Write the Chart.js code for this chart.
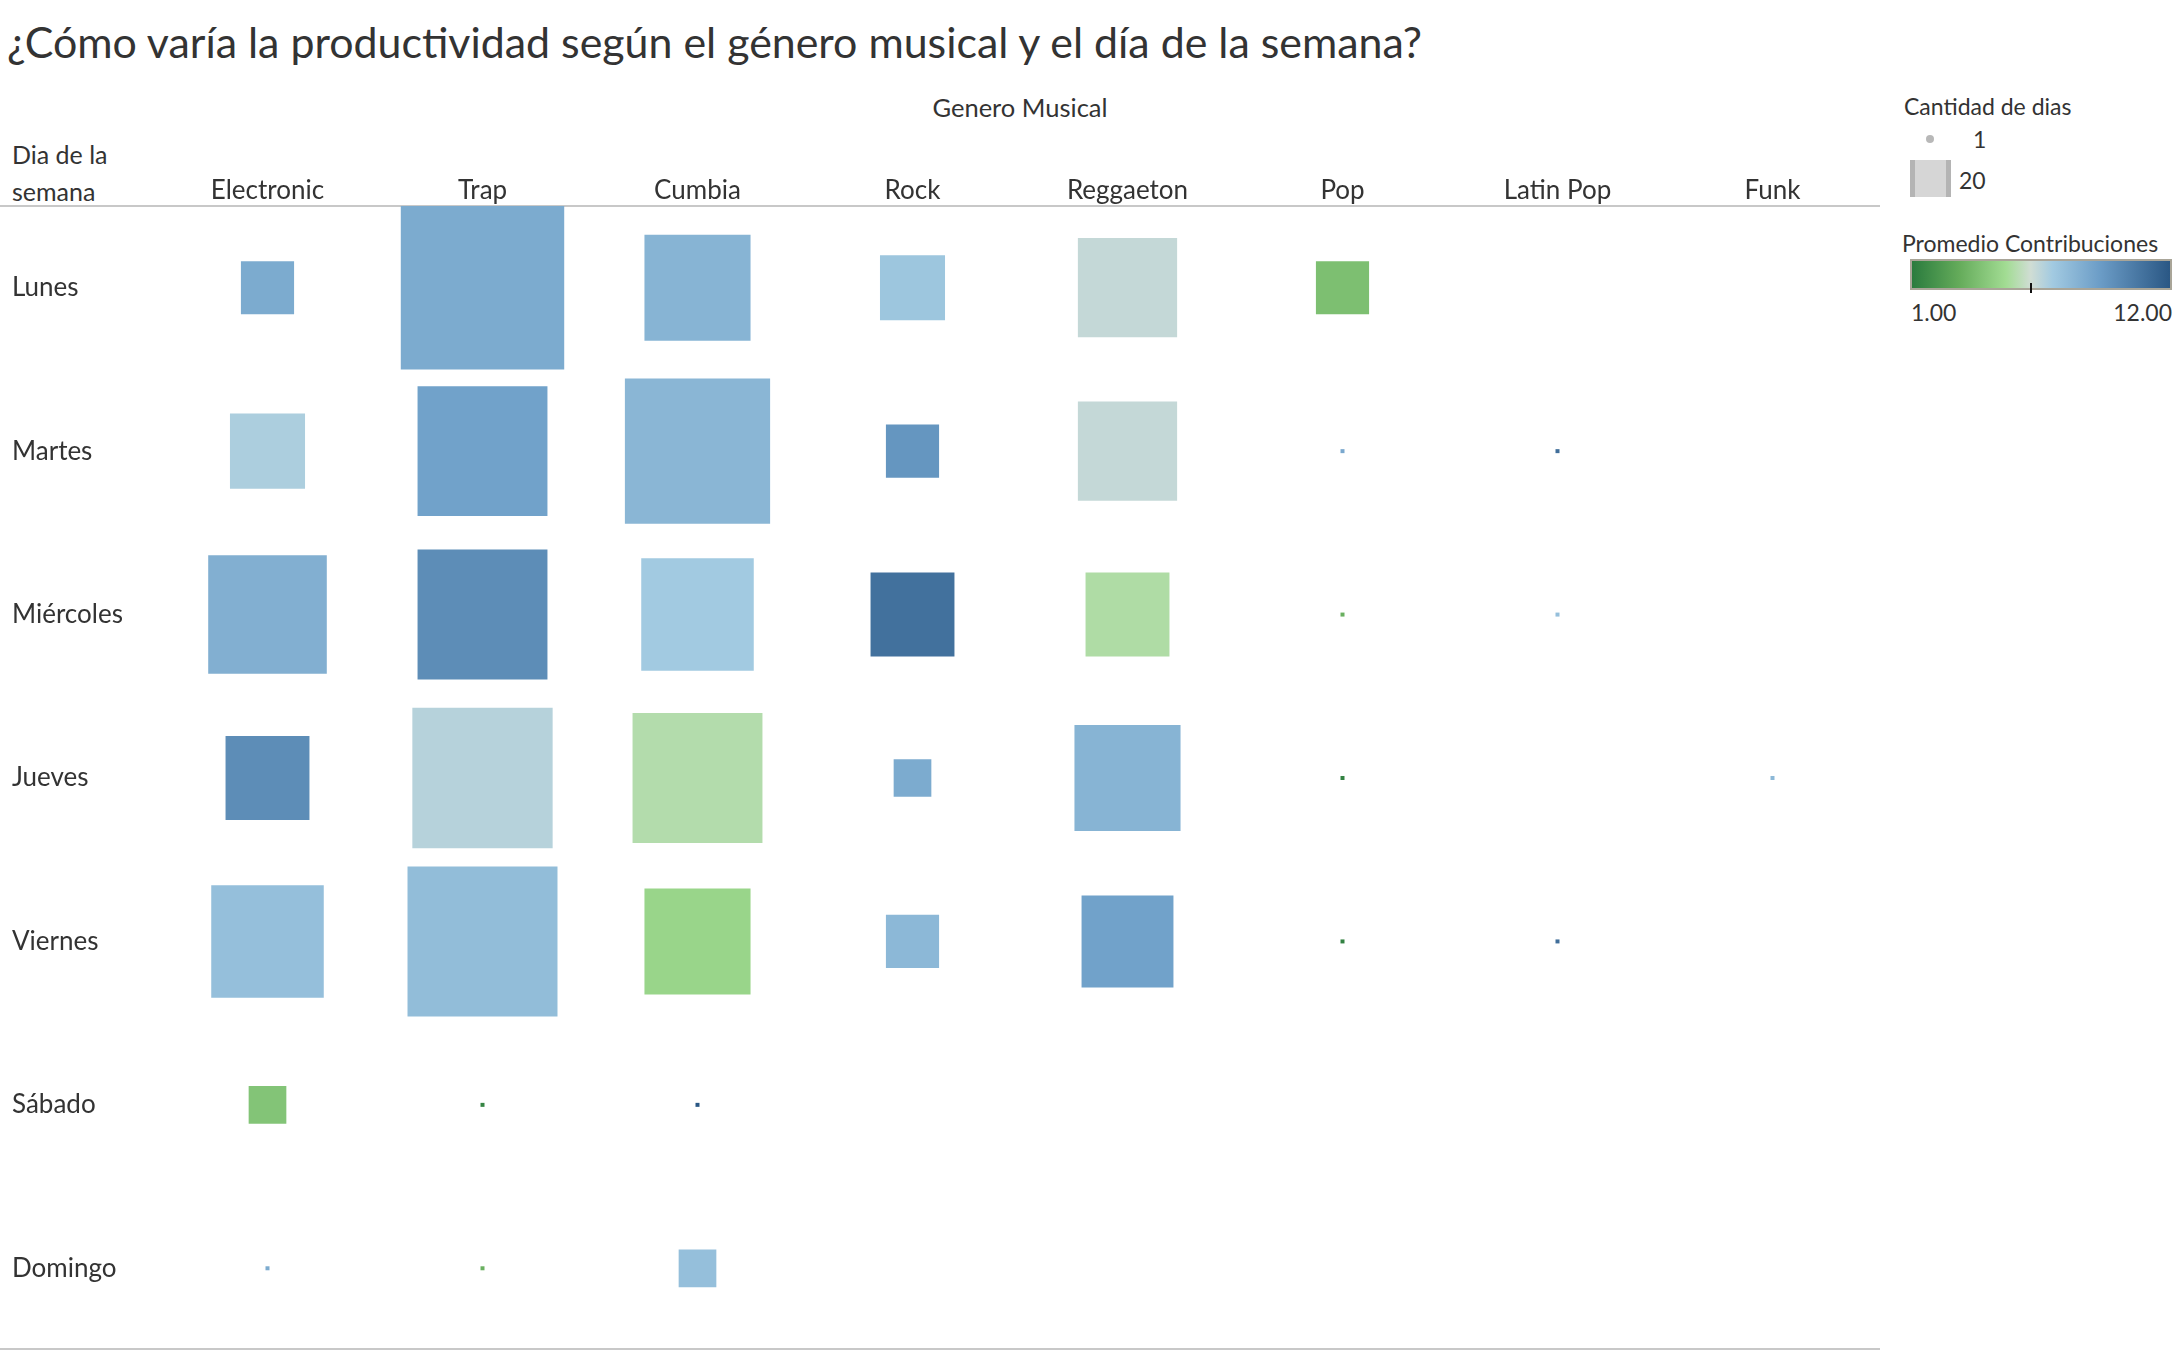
<!DOCTYPE html>
<html lang="es">
<head>
<meta charset="utf-8">
<title>Productividad por género musical y día</title>
<script src="https://cdn.jsdelivr.net/npm/chart.js@4.4.1/dist/chart.umd.min.js"></script>
<style>
  html, body { margin: 0; padding: 0; background: #fff; }
  body { width: 2182px; height: 1350px; position: relative; overflow: hidden;
         font-family: Lato, "Open Sans", sans-serif; color: #333; }
  .txt { position: absolute; white-space: nowrap; line-height: 30px; }
  #titulo { left: 7px; top: 19px; font-size: 42.9px; line-height: 46px; }
  #genero { left: 1020px; top: 92px; font-size: 25.5px; transform: translateX(-50%); }
  #dia1 { left: 12px; top: 139px; font-size: 25px; }
  #dia2 { left: 12px; top: 176px; font-size: 25px; }
  #chartBox { position: absolute; left: 0; top: 0; }
  .leg { font-size: 23px; }
  #legDot { position: absolute; left: 1926px; top: 135px; width: 8px; height: 8px;
            border-radius: 50%; background: #b8b8b8; }
  #legSq { position: absolute; left: 1910px; top: 160px; width: 31px; height: 37px;
           background: #d6d6d6; border-left: 5px solid #b4b4b4; border-right: 5px solid #b4b4b4; }
  #legBar { position: absolute; left: 1910px; top: 259px; width: 258px; height: 27px;
            border: 2px solid #a9a598; }
  #legTick { position: absolute; left: 2030px; top: 283px; width: 2px; height: 10px; background: #111; }
</style>
</head>
<body>
<div id="titulo" class="txt">¿Cómo varía la productividad según el género musical y el día de la semana?</div>
<div id="genero" class="txt">Genero Musical</div>
<div id="dia1" class="txt">Dia de la</div>
<div id="dia2" class="txt">semana</div>

<div class="txt leg" style="left:1904px; top:91px;">Cantidad de dias</div>
<div id="legDot"></div>
<div class="txt leg" id="legMin" style="left:1973px; top:124px;"></div>
<div id="legSq"></div>
<div class="txt leg" id="legMax" style="left:1959px; top:165px;"></div>
<div class="txt leg" style="left:1902px; top:228px;">Promedio Contribuciones</div>
<div id="legBar"></div>
<div id="legTick"></div>
<div class="txt leg" id="legLo" style="left:1911px; top:297px;"></div>
<div class="txt leg" id="legHi" style="left:2172px; top:297px; transform: translateX(-100%);"></div>

<div id="chartBox"><canvas id="grid" width="1880" height="1350"></canvas></div>

<script>
const generos = ["Electronic", "Trap", "Cumbia", "Rock", "Reggaeton", "Pop", "Latin Pop", "Funk"];
const dias = ["Lunes", "Martes", "Miércoles", "Jueves", "Viernes", "Sábado", "Domingo"];

// Cantidad de dias (tamaño), una fila por día, columnas en el orden de generos
const cantidadDias = [
  [3, 20, 9, 4, 8, 3, null, null],
  [5, 13, 16, 3, 8, 1, 1, null],
  [11, 13, 10, 6, 6, 1, 1, null],
  [6, 15, 13, 2, 9, 1, null, 1],
  [10, 17, 9, 3, 7, 1, 1, null],
  [2, 1, 1, null, null, null, null, null],
  [1, 1, 2, null, null, null, null, null]
];

// Promedio Contribuciones (color)
const promedioContrib = [
  [8.4, 8.4, 8.0, 7.2, 6.3, 3.8, null, null],
  [6.8, 8.8, 7.9, 9.3, 6.3, 8.5, 11.0, null],
  [8.2, 9.7, 7.0, 10.9, 5.3, 3.2, 7.5, null],
  [9.7, 6.6, 5.4, 8.4, 8.0, 1.3, null, 7.8],
  [7.5, 7.6, 4.7, 7.8, 8.8, 1.3, 11.0, null],
  [4.0, 1.4, 12.0, null, null, null, null, null],
  [8.4, 3.2, 7.5, null, null, null, null, null]
];

const escalaTamano = [1, 20];
const escalaColor = [1, 12];

// paleta divergente verde-azul
const paradas = [
  [1, [42, 123, 62]],
  [3, [100, 171, 90]],
  [5, [162, 220, 147]],
  [6.06, [208, 221, 212]],
  [7, [162, 202, 225]],
  [9, [108, 157, 199]],
  [12, [42, 87, 132]]
];

function colorDe(v) {
  if (v <= paradas[0][0]) return `rgb(${paradas[0][1].join(',')})`;
  for (let i = 1; i < paradas.length; i++) {
    const [v1, c1] = paradas[i];
    const [v0, c0] = paradas[i - 1];
    if (v <= v1) {
      const t = (v - v0) / (v1 - v0);
      const c = c0.map((a, k) => Math.round(a + (c1[k] - a) * t));
      return `rgb(${c.join(',')})`;
    }
  }
  return `rgb(${paradas[paradas.length - 1][1].join(',')})`;
}

const puntos = [];
dias.forEach((d, i) => {
  generos.forEach((g, j) => {
    const n = cantidadDias[i][j];
    if (n != null) puntos.push({ x: g, y: d, n: n, c: promedioContrib[i][j] });
  });
});

// lado del cuadrado: área lineal entre el mínimo (4px) y la celda completa
function radio(ctx) {
  const area = ctx.chart.chartArea;
  if (!area || !ctx.raw) return 0;
  const celda = (area.bottom - area.top) / dias.length;
  const f0 = Math.pow(4 / celda, 2);
  const f = f0 + (ctx.raw.n - escalaTamano[0]) / (escalaTamano[1] - escalaTamano[0]) * (1 - f0);
  return celda * Math.sqrt(f) / Math.SQRT2;
}

const lineas = {
  id: 'lineas',
  afterDraw(chart) {
    const { ctx, chartArea } = chart;
    ctx.save();
    ctx.fillStyle = '#c8c8c8';
    ctx.fillRect(0, chartArea.top - 1, chartArea.left, 2);
    ctx.fillRect(0, chartArea.bottom - 2, chartArea.right, 2);
    ctx.restore();
  }
};

const fuenteX = { family: 'Lato, "Open Sans", sans-serif', size: 26 };
const fuenteY = { family: 'Lato, "Open Sans", sans-serif', size: 26 };

new Chart(document.getElementById('grid'), {
  type: 'scatter',
  data: {
    datasets: [{
      data: puntos,
      pointStyle: 'rect',
      pointRadius: radio,
      pointBorderWidth: 0,
      pointBackgroundColor: (ctx) => ctx.raw ? colorDe(ctx.raw.c) : '#ccc',
      clip: false
    }]
  },
  options: {
    responsive: false,
    animation: false,
    events: [],
    layout: { padding: { left: 12, top: 0, right: 0, bottom: 0 } },
    plugins: { legend: { display: false }, tooltip: { enabled: false } },
    scales: {
      x: {
        type: 'category',
        labels: generos,
        position: 'top',
        offset: true,
        grid: { display: false, drawTicks: false },
        border: { display: true, color: '#c8c8c8', width: 2 },
        ticks: { color: '#333', font: fuenteX, padding: 0, maxRotation: 0, autoSkip: false },
        afterFit(s) { s.height = 206; s.paddingLeft = 0; s.paddingRight = 0; }
      },
      y: {
        type: 'category',
        labels: dias,
        offset: true,
        grid: { display: false, drawTicks: false },
        border: { display: false },
        ticks: { color: '#333', font: fuenteY, crossAlign: 'far', autoSkip: false },
        afterFit(s) { s.width = 148; s.paddingTop = 0; s.paddingBottom = 0; }
      }
    }
  },
  plugins: [lineas]
});

// leyendas
document.getElementById('legMin').textContent = escalaTamano[0];
document.getElementById('legMax').textContent = escalaTamano[1];
document.getElementById('legLo').textContent = escalaColor[0].toFixed(2);
document.getElementById('legHi').textContent = escalaColor[1].toFixed(2);
const span = escalaColor[1] - escalaColor[0];
document.getElementById('legBar').style.background = 'linear-gradient(to right, ' +
  paradas.map(p => `${colorDe(p[0])} ${((p[0] - escalaColor[0]) / span * 100).toFixed(1)}%`).join(', ') + ')';
</script>
</body>
</html>
